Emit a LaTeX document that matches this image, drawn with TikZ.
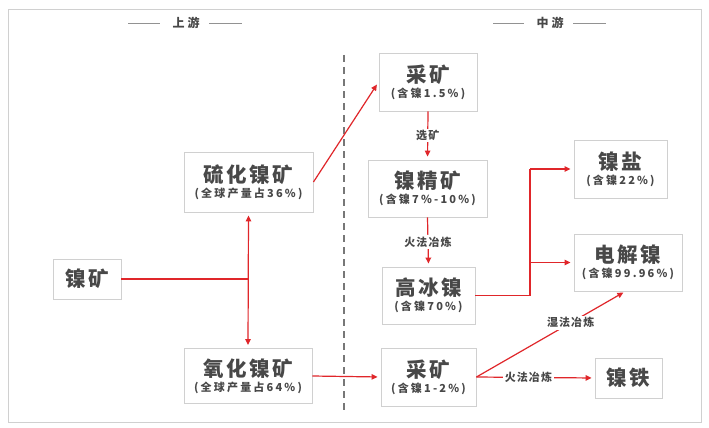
\documentclass[tikz,border=0pt]{standalone}
\usepackage{fontspec}
\setmainfont{Noto Sans CJK SC}
\newfontfamily\cjkbig[LetterSpace=12]{Noto Sans CJK SC}
\newfontfamily\cjksub[LetterSpace=20]{Noto Sans CJK SC}
\newfontfamily\cjklab[LetterSpace=10]{Noto Sans CJK SC}
\newfontfamily\cjkttl[LetterSpace=25]{Noto Sans CJK SC}
\usetikzlibrary{arrows.meta}
\definecolor{txt}{HTML}{484848}
\definecolor{bdr}{HTML}{D0D0D0}
\definecolor{rd}{HTML}{E0262A}
\definecolor{dsh}{HTML}{777777}
\newcommand{\mainlab}[1]{{\cjkbig\fontsize{20.5}{23}\selectfont\bfseries #1}}
\newcommand{\sublab}[1]{{\cjksub\fontsize{11}{13}\selectfont\bfseries #1}}
\begin{document}
\begin{tikzpicture}[x=1pt,y=-1pt,
  box/.style={draw=bdr, line width=0.9pt, fill=white, text=txt, align=center, inner sep=0pt},
  redline/.style={draw=rd, line width=1.2pt},
  arr/.style={redline, -{Triangle[length=6pt,width=5.5pt]}, shorten >=3pt},
  elab/.style={fill=white, text=txt, inner sep=1.5pt, font=\cjklab\fontsize{11}{13}\selectfont\bfseries},
  ttl/.style={text=txt, font=\cjkttl\fontsize{12}{14}\selectfont\bfseries},
  tline/.style={draw=dsh!80, line width=0.8pt}]
\useasboundingbox (0,0) rectangle (709,428);
\fill[white] (0,0) rectangle (709,428);
\draw[bdr, line width=1pt] (8,10) rectangle (701,422);
% titles
\node[ttl] (up) at (186,23) {上游};
\node[ttl] (mid) at (550,23) {中游};
\coordinate (u1) at (128,23); \coordinate (u2) at (160,23);
\coordinate (u3) at (209,23); \coordinate (u4) at (242,23);
\coordinate (m1) at (493,23); \coordinate (m2) at (524,23);
\coordinate (m3) at (573,23); \coordinate (m4) at (606,23);
\draw[tline] (u1) -- (u2) (u3) -- (u4) (m1) -- (m2) (m3) -- (m4);
% divider
\coordinate (d1) at (344,55); \coordinate (d2) at (344,413);
\draw[dsh, line width=1.5pt, dash pattern=on 7pt off 5pt] (d1) -- (d2);
% nodes
\node[box, minimum width=68, minimum height=40] (kuang) at (87,279) {\mainlab{镍矿}};
\node[box, minimum width=129, minimum height=60] (liuhua) at (248.5,182) {\mainlab{硫化镍矿}\\[3pt]\sublab{(全球产量占36\%)}};
\node[box, minimum width=128, minimum height=55] (yanghua) at (248,376) {\mainlab{氧化镍矿}\\[3pt]\sublab{(全球产量占64\%)}};
\node[box, minimum width=98, minimum height=58] (cai1) at (428,82) {\mainlab{采矿}\\[3pt]\sublab{(含镍1.5\%)}};
\node[box, minimum width=119, minimum height=57] (jing) at (427.5,188.5) {\mainlab{镍精矿}\\[3pt]\sublab{(含镍7\%-10\%)}};
\node[box, minimum width=93, minimum height=57] (gao) at (428.5,295.5) {\mainlab{高冰镍}\\[3pt]\sublab{(含镍70\%)}};
\node[box, minimum width=95, minimum height=58] (cai2) at (428.5,377) {\mainlab{采矿}\\[3pt]\sublab{(含镍1-2\%)}};
\node[box, minimum width=93, minimum height=58] (yan) at (620.5,169) {\mainlab{镍盐}\\[3pt]\sublab{(含镍22\%)}};
\node[box, minimum width=108, minimum height=57] (dian) at (628,262.5) {\mainlab{电解镍}\\[3pt]\sublab{(含镍99.96\%)}};
\node[box, minimum width=67, minimum height=40] (tie) at (628.5,378) {\mainlab{镍铁}};
% connectors
\coordinate (j) at (248,279);
\draw[redline] (kuang.east) -- (j);
\draw[redline, {Triangle[length=6pt,width=5.5pt]}-{Triangle[length=6pt,width=5.5pt]}, shorten >=3pt, shorten <=3pt] (liuhua.south) -- (yanghua.north);
\draw[arr] (liuhua.east) -- (cai1.west);
\draw[arr] (cai1.south) -- node[elab] {选矿} (jing.north);
\draw[arr] (jing.south) -- node[elab] {火法冶炼} (gao.north);
\coordinate (g1) at (530,295.5);
\coordinate (g2) at (530,262.5);
\coordinate (g3) at (530,169);
\draw[redline] (gao.east) -- (g1) -- (g3);
\draw[arr] (g3) -- (yan.west);
\draw[arr] (g2) -- (dian.west);
\draw[arr] (yanghua.east) -- (cai2.west);
\coordinate (dt) at (626,291);
\draw[arr] (cai2.east) -- node[elab, pos=0.63] {湿法冶炼} (dt);
\draw[arr] (cai2.east) -- node[elab, pos=0.44] {火法冶炼} (tie.west);
\end{tikzpicture}
\end{document}
